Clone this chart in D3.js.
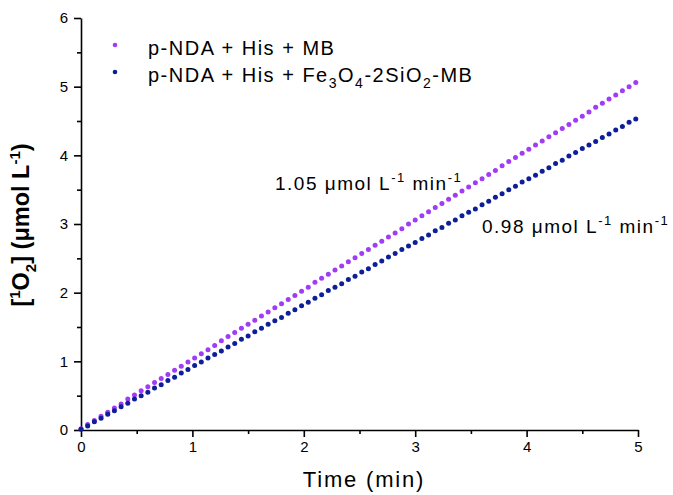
<!DOCTYPE html>
<meta charset="utf-8">
<style>
body { margin: 0; background: #fff; }
svg text { font-family: Arial, "Liberation Sans", sans-serif; fill: #000; }
.axis path, .axis line { stroke: #000; stroke-width: 1.6px; }
.axis text { font-size: 15px; font-family: Arial, "Liberation Sans", sans-serif; }
</style>
<svg width="673" height="495"></svg>
<script src="https://d3js.org/d3.v7.min.js"></script>
<script>

var time = [0,0.06,0.12,0.18,0.24,0.30,0.36,0.42,0.48,0.54,0.60,0.66,0.72,0.78,0.84,0.90,0.96,
  1.02,1.08,1.14,1.20,1.26,1.32,1.38,1.44,1.50,1.56,1.62,1.68,1.74,1.80,1.86,1.92,1.98,
  2.04,2.10,2.16,2.22,2.28,2.34,2.40,2.46,2.52,2.58,2.64,2.70,2.76,2.82,2.88,2.94,
  3.00,3.06,3.12,3.18,3.24,3.30,3.36,3.42,3.48,3.54,3.60,3.66,3.72,3.78,3.84,3.90,3.96,
  4.02,4.08,4.14,4.20,4.26,4.32,4.38,4.44,4.50,4.56,4.62,4.68,4.74,4.80,4.86,4.92,4.98];

var mbValues = [0.02,0.08,0.14,0.20,0.26,0.32,0.38,0.45,0.51,0.57,0.63,0.69,0.75,0.81,0.87,0.93,0.99,
  1.05,1.11,1.17,1.23,1.30,1.36,1.42,1.48,1.54,1.60,1.66,1.72,1.78,1.84,1.90,1.96,2.02,
  2.08,2.15,2.21,2.27,2.33,2.39,2.45,2.51,2.57,2.63,2.69,2.75,2.81,2.87,2.93,3.00,
  3.06,3.12,3.18,3.24,3.30,3.36,3.42,3.48,3.54,3.60,3.66,3.72,3.78,3.85,3.91,3.97,4.03,
  4.09,4.15,4.21,4.27,4.33,4.39,4.45,4.51,4.57,4.63,4.70,4.76,4.82,4.88,4.94,5.00,5.06];

var feValues = [0.01,0.06,0.12,0.17,0.23,0.28,0.34,0.39,0.45,0.50,0.55,0.61,0.66,0.72,0.77,0.83,0.88,
  0.94,0.99,1.05,1.10,1.15,1.21,1.26,1.32,1.37,1.43,1.48,1.54,1.59,1.64,1.70,1.75,1.81,
  1.86,1.92,1.97,2.03,2.08,2.13,2.19,2.24,2.30,2.35,2.41,2.46,2.52,2.57,2.63,2.68,
  2.73,2.79,2.84,2.90,2.95,3.01,3.06,3.12,3.17,3.22,3.28,3.33,3.39,3.44,3.50,3.55,3.61,
  3.66,3.71,3.77,3.82,3.88,3.93,3.99,4.04,4.10,4.15,4.20,4.26,4.31,4.37,4.42,4.48,4.53];

var xTicks = [0,1,2,3,4,5];
var yTicks = [0,1,2,3,4,5,6];

var svg = d3.select("svg");

var x = d3.scaleLinear().domain([0, 5]).range([81, 638]);
var y = d3.scaleLinear().domain([0, 6]).range([430, 18]);

// minor ticks
svg.append("g")
    .attr("class", "axis")
    .attr("transform", "translate(0,430)")
    .call(d3.axisBottom(x).tickValues(d3.range(0.5, 5, 1)).tickSize(4).tickFormat(""))
    .select(".domain").remove();
svg.append("g")
    .attr("class", "axis")
    .attr("transform", "translate(81,0)")
    .call(d3.axisLeft(y).tickValues(d3.range(0.5, 6, 1)).tickSize(4).tickFormat(""))
    .select(".domain").remove();

svg.append("g")
    .attr("class", "axis")
    .attr("transform", "translate(0,430)")
    .call(d3.axisBottom(x).tickValues(xTicks).tickFormat(d3.format("d"))
      .tickSize(7).tickSizeOuter(0).tickPadding(4));

svg.append("g")
    .attr("class", "axis")
    .attr("transform", "translate(81,0)")
    .call(d3.axisLeft(y).tickValues(yTicks).tickFormat(d3.format("d"))
      .tickSize(7).tickSizeOuter(0).tickPadding(6));

var series = [
  { values: mbValues, color: "#a03cf5" },
  { values: feValues, color: "#0c1f98" }
];

series.forEach(function(s) {
  svg.append("g").selectAll("circle")
    .data(time)
    .enter().append("circle")
      .attr("cx", function(d) { return x(d); })
      .attr("cy", function(d, i) { return y(s.values[i]); })
      .attr("r", 2.5)
      .attr("fill", s.color);
});

// spaced-out text like the original
function spacedText(xp, yp, size, spacing) {
  return svg.append("text")
      .attr("x", xp)
      .attr("y", yp)
      .style("font-size", size + "px")
      .style("letter-spacing", spacing + "px");
}

// legend
svg.append("circle").attr("cx", 115).attr("cy", 45).attr("r", 2.3).attr("fill", series[0].color);
svg.append("circle").attr("cx", 115).attr("cy", 72).attr("r", 2.3).attr("fill", series[1].color);

spacedText(148, 55, 20, 1.5).text("p-NDA + His + MB");

var leg2 = spacedText(148, 82, 20, 1.5);
leg2.append("tspan").text("p-NDA + His + Fe");
leg2.append("tspan").attr("dy", 6).style("font-size", "14px").text("3");
leg2.append("tspan").attr("dy", -6).text("O");
leg2.append("tspan").attr("dy", 6).style("font-size", "14px").text("4");
leg2.append("tspan").attr("dy", -6).text("-2SiO");
leg2.append("tspan").attr("dy", 6).style("font-size", "14px").text("2");
leg2.append("tspan").attr("dy", -6).text("-MB");

// rate annotations
function rateLabel(xp, yp, num) {
  var t = spacedText(xp, yp, 19, 1.5);
  t.append("tspan").text(num + " \u03bcmol L");
  t.append("tspan").attr("dy", -8).style("font-size", "13px").text("-1");
  t.append("tspan").attr("dy", 8).text(" min");
  t.append("tspan").attr("dy", -8).style("font-size", "13px").text("-1");
}
rateLabel(275, 190, "1.05");
rateLabel(482, 233, "0.98");

// axis titles
spacedText(364, 487, 22, 1.8)
    .attr("text-anchor", "middle")
    .text("Time (min)");

var yl = svg.append("text")
    .attr("transform", "translate(29,225) rotate(-90)")
    .attr("text-anchor", "middle")
    .style("font-size", "23.5px")
    .style("font-weight", "bold");
yl.append("tspan").text("[");
yl.append("tspan").attr("dy", -9).style("font-size", "15px").text("1");
yl.append("tspan").attr("dy", 9).text("O");
yl.append("tspan").attr("dy", 7).style("font-size", "15px").text("2");
yl.append("tspan").attr("dy", -7).text("] (\u03bcmol L");
yl.append("tspan").attr("dy", -9).style("font-size", "15px").text("-1");
yl.append("tspan").attr("dy", 9).text(")");

</script>
